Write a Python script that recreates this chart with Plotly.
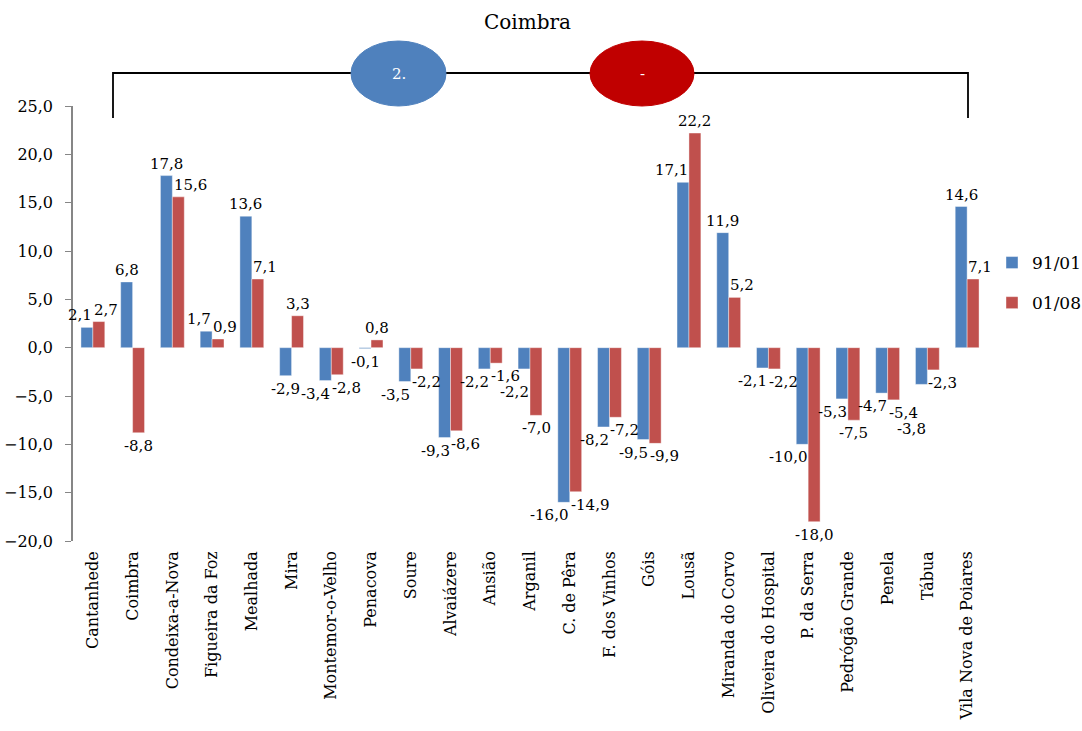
import plotly.graph_objects as go

categories = ["Cantanhede", "Coimbra", "Condeixa-a-Nova", "Figueira da Foz", "Mealhada",
              "Mira", "Montemor-o-Velho", "Penacova", "Soure", "Alvaiázere", "Ansião",
              "Arganil", "C. de Pêra", "F. dos Vinhos", "Góis", "Lousã", "Miranda do Corvo",
              "Oliveira do Hospital", "P. da Serra", "Pedrógão Grande", "Penela", "Tábua",
              "Vila Nova de Poiares"]
s1_name = "91/01"
s1 = [2.1, 6.8, 17.8, 1.7, 13.6, -2.9, -3.4, -0.1, -3.5, -9.3, -2.2, -2.2, -16.0,
      -8.2, -9.5, 17.1, 11.9, -2.1, -10.0, -5.3, -4.7, -3.8, 14.6]
s2_name = "01/08"
s2 = [2.7, -8.8, 15.6, 0.9, 7.1, 3.3, -2.8, 0.8, -2.2, -8.6, -1.6, -7.0, -14.9,
      -7.2, -9.9, 22.2, 5.2, -2.2, -18.0, -7.5, -5.4, -2.3, 7.1]
y_ticks = [25, 20, 15, 10, 5, 0, -5, -10, -15, -20]
title_text = "Coimbra"

FONT = "DejaVu Serif"
LABEL_SIZE = 15
LABEL_H = 18
W, H = 1082, 731
L, R, T, B = 73, 987, 106, 541
ML, MR, MT, MB = L, W - R, T, H - B
ymin, ymax = -20, 25
PX_PER_UNIT = (B - T) / (ymax - ymin)
CAT_W = (R - L) / len(categories)
BAR_OFF = 6  # bar centre offset from category centre, px

def px(x):
    return (x - L) / (R - L)

def py(y):
    return (B - y) / (B - T)

def fmt(v):
    return f"{v:.1f}".replace(".", ",")

def text_w(s):
    w = 0
    for ch in s:
        w += 0.636 if ch.isdigit() else (0.32 if ch == "," else 0.338)
    return w * LABEL_SIZE

fig = go.Figure()
for name, vals, col in [(s1_name, s1, "#4F81BD"), (s2_name, s2, "#C0504D")]:
    fig.add_trace(go.Bar(
        x=categories, y=vals, name=name, legendgroup=name,
        marker=dict(color=col, line=dict(color="rgba(255,255,255,0.5)", width=0.8)),
    ))

# data labels (Excel-like placement: push a label outward when the neighbour bar is taller,
# then resolve remaining collisions by moving a label further from the zero line)
labels = []
for i, (c, b, r) in enumerate(zip(categories, s1, s2)):
    lb, lr = fmt(b), fmt(r)
    sb, sr = -BAR_OFF, BAR_OFF
    if (b >= 0) == (r >= 0):
        close = abs(abs(b) - abs(r)) * PX_PER_UNIT < 17
        if abs(r) >= abs(b):
            sb = -(text_w(lb) / 2 + 1)
            if close:
                sr = text_w(lr) / 2 + 1
        else:
            sr = text_w(lr) / 2 + 1
            if close:
                sb = -(text_w(lb) / 2 + 1)
    labels.append((i, c, b, lb, sb))
    labels.append((i, c, r, lr, sr))

placed = []
for i, c, v, lab, s in labels:
    xc = L + (i + 0.5) * CAT_W + s
    w = text_w(lab)
    x0, x1 = xc - w / 2, xc + w / 2
    y_end = B - (v - ymin) * PX_PER_UNIT
    ys = 1 if v >= 0 else -2
    for _ in range(5):
        if v >= 0:
            top, bot = y_end - ys - LABEL_H, y_end - ys
        else:
            top, bot = y_end - ys, y_end - ys + LABEL_H
        hit = None
        for (a0, a1, t0, t1) in placed:
            if x0 < a1 - 2 and x1 > a0 + 2 and top < t1 - 2 and bot > t0 + 2:
                hit = (t0, t1)
                break
        if hit is None:
            break
        if v >= 0:
            ys += bot - hit[0] - 2
        else:
            ys -= hit[1] - top - 2
    placed.append((x0, x1, top, bot))
    fig.add_annotation(x=c, y=v, xref="x", yref="y", text=lab,
                       showarrow=False, xshift=s,
                       yanchor="bottom" if v >= 0 else "top", yshift=ys,
                       font=dict(family=FONT, size=LABEL_SIZE, color="black"))

zero_frac = (0 - ymin) / (ymax - ymin)

fig.update_layout(
    width=W, height=H,
    margin=dict(l=ML, r=MR, t=MT, b=MB, autoexpand=False),
    paper_bgcolor="white", plot_bgcolor="white",
    separators=",.",
    barmode="group", bargap=0.4, bargroupgap=0,
    font=dict(family=FONT, size=16, color="black"),
    showlegend=True,
    legend=dict(x=px(992), xanchor="left", y=py(283), yanchor="middle",
                font=dict(family=FONT, size=17), bgcolor="rgba(0,0,0,0)",
                tracegroupgap=15, itemwidth=30),
    xaxis=dict(type="category", tickangle=-90, showline=False, ticks="",
               showgrid=False, zeroline=False, tickfont=dict(family=FONT, size=16),
               ticklabelstandoff=6, range=[-0.5, len(categories) - 0.5]),
    xaxis2=dict(overlaying="x", anchor="free", position=zero_frac, range=[-0.5, len(categories) - 0.5],
                tickvals=[i - 0.5 for i in range(len(categories) + 1)], showticklabels=False,
                ticks="outside", ticklen=6, tickcolor="#868686", showline=True,
                linecolor="#868686", linewidth=1.5, showgrid=False, zeroline=False),
    yaxis=dict(range=[ymin, ymax], tickvals=y_ticks, tickformat=".1f", ticks="outside",
               ticklen=6, tickcolor="#868686", showline=True, linecolor="#868686",
               linewidth=1.5, showgrid=False, zeroline=False, ticklabelstandoff=9,
               tickfont=dict(family=FONT, size=16)),
)

fig.add_annotation(text=title_text, xref="paper", yref="paper", x=px(527), y=py(22),
                   yanchor="middle", showarrow=False, font=dict(family=FONT, size=20, color="black"))

fig.add_shape(type="path", xref="paper", yref="paper",
              path=f"M {px(113)},{py(118)} L {px(113)},{py(73)} L {px(968)},{py(73)} L {px(968)},{py(118)}",
              line=dict(color="black", width=1.8))
for (x0, x1, col, lab) in [(351, 446, "#4F81BD", "2."), (590, 694, "#C00000", "-")]:
    fig.add_shape(type="circle", xref="paper", yref="paper",
                  x0=px(x0), x1=px(x1), y0=py(106), y1=py(41),
                  fillcolor=col, line=dict(color=col, width=1))
    fig.add_annotation(text=lab, xref="paper", yref="paper", x=px((x0 + x1) / 2), y=py(74),
                       yanchor="middle", showarrow=False, font=dict(family=FONT, size=15, color="white"))

fig.write_html("out.html")
